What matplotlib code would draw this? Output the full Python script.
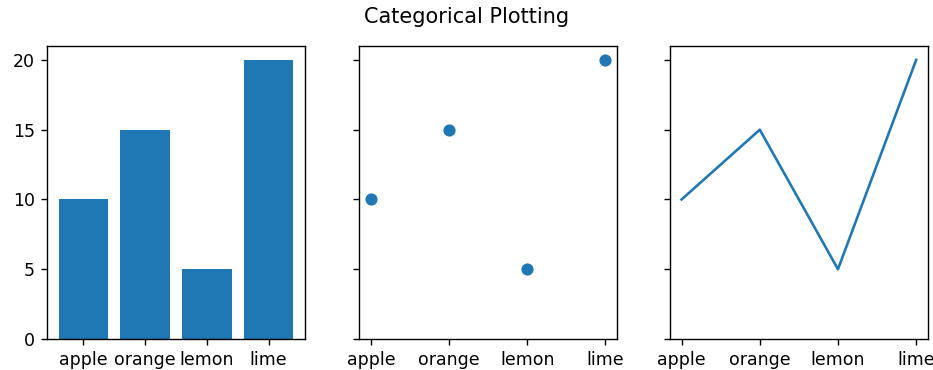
import matplotlib.pyplot as plt
from matplotlib.ticker import MultipleLocator

names = ['apple', 'orange', 'lemon', 'lime']
values = [10, 15, 5, 20]

fig = plt.figure(figsize=(933 / 125, 370 / 125), dpi=125)
w, h, b = 0.2765, 0.792, 0.0838
ax1 = fig.add_axes([0.0504, b, w, h])
ax2 = fig.add_axes([0.385, b, w, h], sharey=ax1)
ax3 = fig.add_axes([0.718, b, w, h], sharey=ax1)

ax1.bar(names, values)
ax2.scatter(names, values)
ax3.plot(names, values)
ax1.yaxis.set_major_locator(MultipleLocator(5))
ax2.tick_params(labelleft=False)
ax3.tick_params(labelleft=False)

fig.suptitle('Categorical Plotting', y=0.954, va='center')
fig.savefig('out.png', dpi=125)
